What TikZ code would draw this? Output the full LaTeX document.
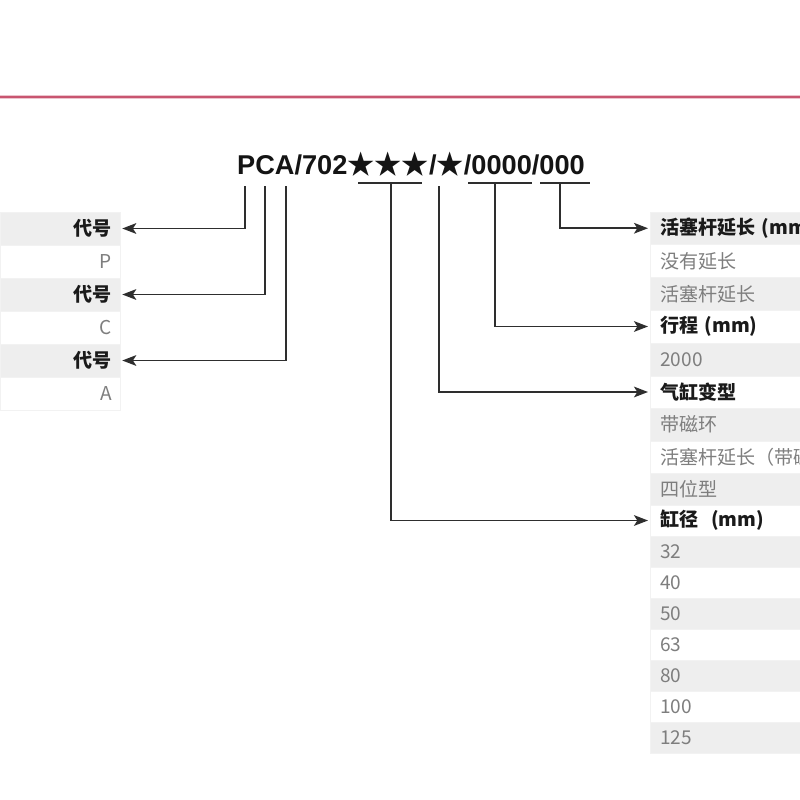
\documentclass[tikz,border=0pt]{standalone}
\usepackage{fontspec}
\setmainfont{Liberation Sans}
\newfontfamily\cjk{Noto Sans CJK SC}
\usetikzlibrary{arrows.meta}
\definecolor{band}{HTML}{EEEEEE}
\definecolor{rule}{RGB}{200,85,112}
\definecolor{ink}{HTML}{2E2E2E}
\definecolor{head}{HTML}{1A1A1A}
\definecolor{val}{HTML}{7E7E7E}
\tikzset{
  conn/.style={draw=ink, line width=1.4pt, -{Stealth[length=10.5pt,width=8pt,inset=2.5pt]}, shorten >=1.5pt},
  barline/.style={draw=ink, line width=1.6pt},
  lrow/.style={minimum width=90pt, text width=78pt, align=right, inner xsep=6pt, inner ysep=0pt,
    minimum height=24.75pt, draw=black!5, line width=0.4pt, font=\cjk\fontsize{14.3}{16}\selectfont},
  rrow/.style={anchor=west, text width=300pt, align=left, inner xsep=7.5pt, inner ysep=0pt,
    draw=black!5, line width=0.4pt, font=\cjk\fontsize{14.3}{16}\selectfont},
}
\begin{document}
\begin{tikzpicture}[x=0.75pt,y=-0.75pt]
\useasboundingbox[fill=white] (0,0) rectangle (800,800);
% red rule
\coordinate (ruleL) at (0,97);
\coordinate (ruleR) at (800,97);
\draw[rule!35, line width=3.2pt] (ruleL) -- (ruleR);
\draw[rule, line width=1.8pt] (ruleL) -- (ruleR);
% title
\node[anchor=base, inner sep=0pt, font=\fontsize{20.4}{22}\selectfont\bfseries, text=black!92] (title) at (411,174)
  {PCA/702{\cjk ★★★}/{\cjk ★}/0000/000};
% left table
\node[lrow, fill=band] (L0) at (60,228.5) {\bfseries\color{head}代号};
\node[lrow, fill=white] (L1) at (60,261.5) {\color{val}P};
\node[lrow, fill=band] (L2) at (60,294.5) {\bfseries\color{head}代号};
\node[lrow, fill=white] (L3) at (60,327.5) {\color{val}C};
\node[lrow, fill=band] (L4) at (60,360.5) {\bfseries\color{head}代号};
\node[lrow, fill=white] (L5) at (60,393.5) {\color{val}A};
% right table
\foreach \n/\y/\h/\f/\t in {
  0/228.25/32.5/band/{\bfseries\color{head}活塞杆延长 (mm)},
  1/261/33/white/{\color{val}没有延长},
  2/293.75/32.5/band/{\color{val}活塞杆延长},
  3/326.5/33/white/{\bfseries\color{head}行程 (mm)},
  4/359.5/33/band/{\color{val}2000},
  5/392/32/white/{\bfseries\color{head}气缸变型},
  6/424.5/33/band/{\color{val}带磁环},
  7/457/32/white/{\color{val}活塞杆延长（带磁环）},
  8/489/32/band/{\color{val}四位型},
  9/520.5/31/white/{\bfseries\color{head}缸径~ (mm)},
  10/551.5/31/band/{\color{val}32},
  11/582.75/31.5/white/{\color{val}40},
  12/614/31/band/{\color{val}50},
  13/645/31/white/{\color{val}63},
  14/676/31/band/{\color{val}80},
  15/707/31/white/{\color{val}100},
  16/738/31/band/{\color{val}125}}
{
  \node[rrow, fill=\f, minimum height={\h*0.75pt}] (R\n) at (650,\y) {\t};
}
% bars under the code
\coordinate (b1a) at (358,183); \coordinate (b1b) at (422,183); \coordinate (b1m) at (391,183);
\coordinate (b2a) at (468,183); \coordinate (b2b) at (532,183); \coordinate (b2m) at (495,183);
\coordinate (b3a) at (540,183); \coordinate (b3b) at (590,183); \coordinate (b3m) at (560,183);
\draw[barline] (b1a) -- (b1b);
\draw[barline] (b2a) -- (b2b);
\draw[barline] (b3a) -- (b3b);
\coordinate (v1) at (245,186);
\coordinate (v2) at (265,186);
\coordinate (v3) at (286,186);
\coordinate (v4) at (439,186);
% connectors to the left table
\draw[conn] (v1) |- (L0.east);
\draw[conn] (v2) |- (L2.east);
\draw[conn] (v3) |- (L4.east);
% connectors to the right table
\draw[conn] (b3m) |- (R0.west);
\draw[conn] (b2m) |- (R3.west);
\draw[conn] (v4) |- (R5.west);
\draw[conn] (b1m) |- (R9.west);
\end{tikzpicture}
\end{document}
